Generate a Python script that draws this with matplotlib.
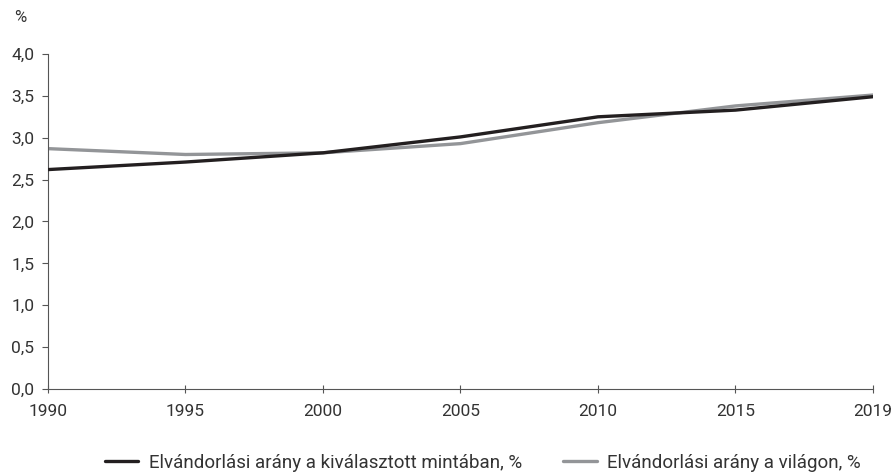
import matplotlib.pyplot as plt

years = ["1990", "1995", "2000", "2005", "2010", "2015", "2019"]
sample = [2.62, 2.71, 2.82, 3.01, 3.25, 3.33, 3.49]
world = [2.87, 2.80, 2.82, 2.93, 3.18, 3.38, 3.51]
yticks = [0.0, 0.5, 1.0, 1.5, 2.0, 2.5, 3.0, 3.5, 4.0]

plt.rcParams['font.family'] = ['Roboto', 'DejaVu Sans']
txt = "#333333"

fig = plt.figure(figsize=(8.95, 4.76), dpi=100)
ax = fig.add_axes([48/895, 87/476, 825/895, 335/476])

x = range(len(years))
ax.plot(x, sample, color="#231f20", lw=2.4, solid_capstyle="round",
        label="Elvándorlási arány a kiválasztott mintában, %", zorder=3)
ax.plot(x, world, color="#939598", lw=2.4, solid_capstyle="round",
        label="Elvándorlási arány a világon, %", zorder=2)

ax.set_xlim(0, len(years) - 1)
ax.set_ylim(0, 4.0)
ax.set_xticks(list(x))
ax.set_xticklabels(years)
ax.set_yticks(yticks)
ax.set_yticklabels([f"{v:.1f}".replace(".", ",") for v in yticks])
for s in ["top", "right"]:
    ax.spines[s].set_visible(False)
for s in ["left", "bottom"]:
    ax.spines[s].set_color("#555555")
    ax.spines[s].set_linewidth(0.8)
ax.tick_params(axis="x", length=6, color="#555555", labelsize=12.5, labelcolor=txt, pad=8, direction="inout")
ax.tick_params(axis="y", length=4, color="#555555", labelsize=12.5, labelcolor=txt, pad=6)

fig.text(14/895, 1 - 18/476, "%", fontsize=12, color=txt, va="center")

ax.legend(loc="center", bbox_to_anchor=(0.527, -0.22), ncol=2, frameon=False,
          fontsize=13.5, labelcolor=txt, handlelength=1.8, handletextpad=0.55,
          columnspacing=2.2)

fig.savefig("out.png", dpi=100)
